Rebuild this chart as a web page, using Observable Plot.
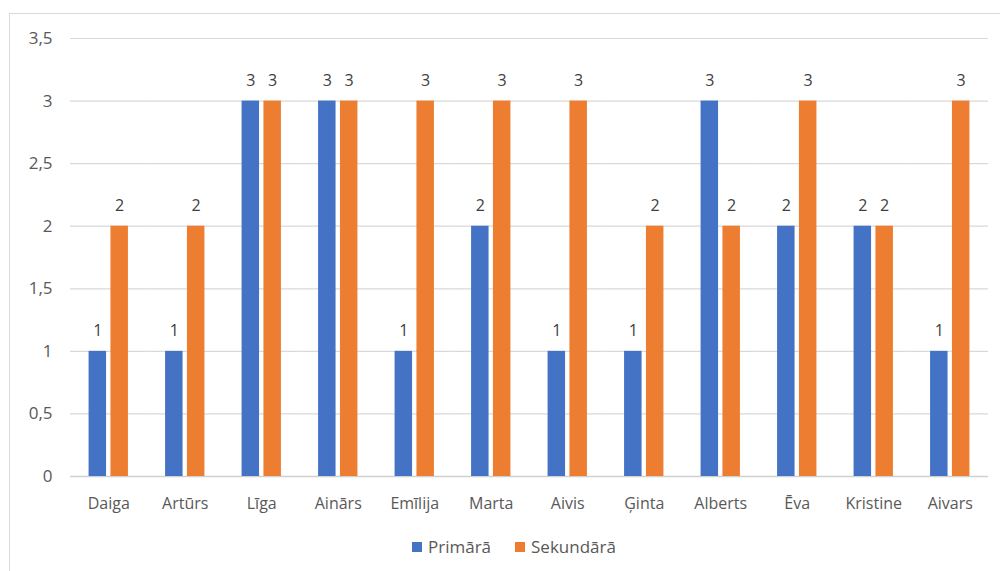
<!DOCTYPE html>
<html>
<head>
<meta charset="utf-8">
<script src="https://cdn.jsdelivr.net/npm/d3@7"></script>
<script src="https://cdn.jsdelivr.net/npm/@observablehq/plot@0.6"></script>
<style>
  html, body { margin: 0; padding: 0; background: #fff; }
  body { width: 1000px; height: 571px; position: relative; overflow: hidden; font-family: "Open Sans", sans-serif; }
  #frame { position: absolute; left: 9px; top: 13px; width: 1000px; height: 600px; border-left: 1.5px solid #d9d9d9; border-top: 1.5px solid #d9d9d9; }
  #chart { position: absolute; left: 0; top: 0; }
  #legend { position: absolute; top: 535px; left: 412px; display: flex; gap: 24px; font-size: 17px; color: #595959; line-height: 23px; }
  #legend span.item { display: flex; align-items: center; gap: 6px; }
  #legend span.sw { display: inline-block; width: 10px; height: 10px; }
</style>
</head>
<body>
<div id="frame"></div>
<div id="chart"></div>
<div id="legend"></div>
<script>
const names = ["Daiga", "Artūrs", "Līga", "Ainārs", "Emīlija", "Marta", "Aivis", "Ģinta", "Alberts", "Ēva", "Kristine", "Aivars"];
const seriesNames = ["Primārā", "Sekundārā"];
const primary = [1, 1, 3, 3, 1, 2, 1, 1, 3, 2, 2, 1];
const secondary = [2, 2, 3, 3, 3, 3, 3, 2, 2, 3, 2, 3];
const colors = ["#4472C4", "#ED7D31"];
const yTicks = [0, 0.5, 1, 1.5, 2, 2.5, 3, 3.5];

const data = [];
names.forEach((n, i) => {
  data.push({name: n, series: seriesNames[0], value: primary[i]});
  data.push({name: n, series: seriesNames[1], value: secondary[i]});
});

const fmt = d => String(d).replace(".", ",");

const chart = Plot.plot({
  width: 1000,
  height: 525,
  marginTop: 38,
  marginBottom: 49,
  marginLeft: 70,
  marginRight: 12,
  style: {fontFamily: "'Open Sans', sans-serif", color: "#595959", background: "transparent"},
  fx: {domain: names, padding: 0, round: false, label: null, axis: null},
  x: {domain: seriesNames, paddingInner: 0.2, paddingOuter: 0.85, round: false, axis: null},
  y: {domain: [0, 3.5], label: null, axis: null},
  color: {domain: seriesNames, range: colors},
  marks: [
    Plot.ruleY(yTicks.filter(d => d > 0), {stroke: "#d9d9d9", strokeWidth: 1.2}),
    Plot.ruleY([0], {stroke: "#d0d0d0", strokeWidth: 1.5}),
    Plot.axisY({ticks: yTicks, tickSize: 0, tickPadding: 18, tickFormat: fmt, fontSize: 17, fill: "#595959", label: null}),
    Plot.axisFx({anchor: "bottom", tickSize: 0, tickPadding: 21, fontSize: 16, fill: "#595959", label: null}),
    Plot.barY(data, {fx: "name", x: "series", y: "value", fill: "series"}),
    Plot.text(data, {fx: "name", x: "series", y: "value", text: d => String(d.value), dy: -20, fontSize: 16, fill: "#404040"})
  ]
});
document.getElementById("chart").appendChild(chart);

const legend = document.getElementById("legend");
seriesNames.forEach((s, i) => {
  const item = document.createElement("span");
  item.className = "item";
  const sw = document.createElement("span");
  sw.className = "sw";
  sw.style.background = colors[i];
  const t = document.createElement("span");
  t.textContent = s;
  item.appendChild(sw);
  item.appendChild(t);
  legend.appendChild(item);
});
</script>
</body>
</html>
